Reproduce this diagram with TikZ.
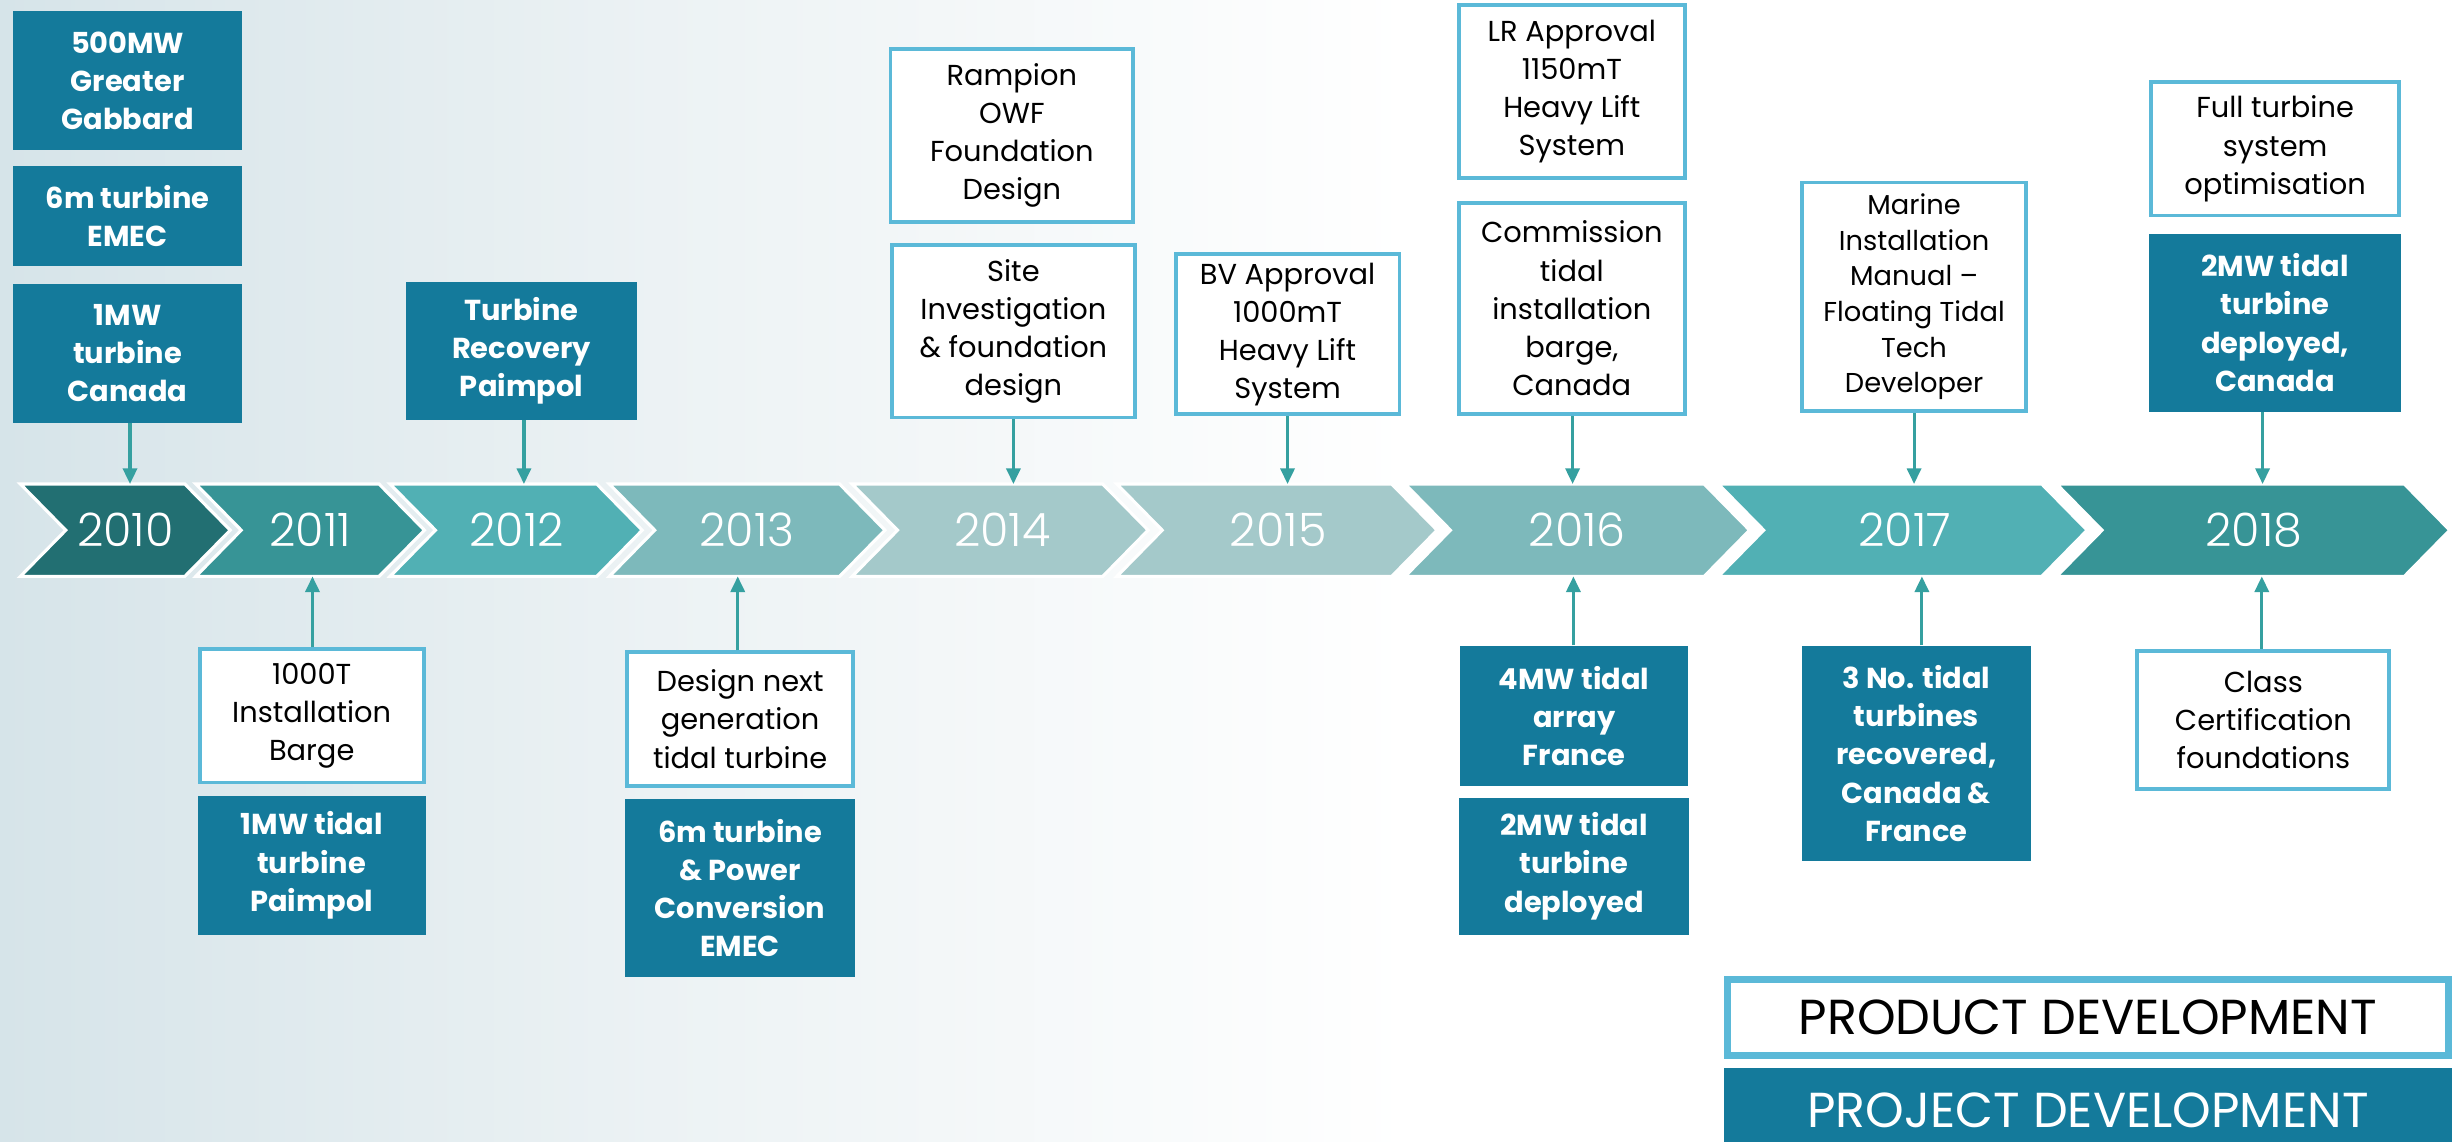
\documentclass[tikz,border=0pt]{standalone}
\usepackage{fontspec}
\setmainfont{Poppins}
\IfFontExistsTF{Poppins Light}{\newfontfamily\yearfont{Poppins Light}}{\newfontfamily\yearfont{Poppins}}
\usetikzlibrary{arrows.meta}
\definecolor{projfill}{RGB}{20,122,155}
\definecolor{prodline}{RGB}{91,185,216}
\definecolor{conncol}{RGB}{53,160,160}
\definecolor{c10}{RGB}{34,111,114}
\definecolor{c11}{RGB}{55,148,150}
\definecolor{c12}{RGB}{81,176,180}
\definecolor{c13}{RGB}{125,185,187}
\definecolor{c14}{RGB}{164,201,202}
\definecolor{bgL}{RGB}{214,228,233}
\definecolor{bgM}{RGB}{236,242,244}
\newcommand\chevshape[3]{%
  \path[chev, fill=#3] (#1,309) -- (#2,309) -- ++(29,29.5) -- ++(-29,29.5) -- (#1,368) -- ++(29,-29.5) -- cycle;}
\begin{document}
\begin{tikzpicture}[x=1bp,y=-1bp,
  boxtext/.style={align=center, inner sep=0pt, font=\fontsize{18.5}{24.5}\selectfont},
  prodbox/.style={boxtext, draw=prodline, line width=2.5bp, fill=white, text=black},
  projbox/.style={boxtext, fill=projfill, text=white, font=\bfseries\fontsize{18.5}{24.5}\selectfont},
  conn/.style={draw=conncol, line width=2bp, -{Triangle[length=10bp,width=9bp]}},
  chev/.style={draw=white, line width=2bp},
  yeartxt/.style={text=white, inner sep=0pt, font=\yearfont\fontsize{29.5}{29.5}\selectfont},
  legendtxt/.style={inner sep=0pt, font=\fontsize{31.5}{31.5}\selectfont}
]
% background
\useasboundingbox (0,0) rectangle (1568,729);
\fill[white] (0,0) rectangle (1568,729);
\shade[left color=bgL, right color=bgM] (0,0) rectangle (420,729);
\shade[left color=bgM, right color=white] (420,0) rectangle (900,729);

% chevrons
\chevshape{13}{118}{c10}
\chevshape{125}{242}{c11}
\chevshape{249}{381}{c12}
\chevshape{389}{536}{c13}
\chevshape{544}{704}{c14}
\chevshape{713}{888.5}{c14}
\chevshape{897}{1088}{c13}
\chevshape{1097}{1303.5}{c12}
\chevshape{1313}{1535}{c11}

\node[yeartxt] (y2010) at (80,338.5) {2010};
\node[yeartxt] (y2011) at (198,338.5) {2011};
\node[yeartxt] (y2012) at (330,338.5) {2012};
\node[yeartxt] (y2013) at (477,338.5) {2013};
\node[yeartxt] (y2014) at (640,338.5) {2014};
\node[yeartxt] (y2015) at (816,338.5) {2015};
\node[yeartxt] (y2016) at (1007,338.5) {2016};
\node[yeartxt] (y2017) at (1216,338.5) {2017};
\node[yeartxt] (y2018) at (1439,338.5) {2018};

% top boxes
\node[projbox, minimum width=147, minimum height=89] (g500) at (81.5,51.5) {500MW\\Greater\\Gabbard};
\node[projbox, minimum width=147, minimum height=64] (emec6) at (81.5,138) {6m turbine\\EMEC};
\node[projbox, minimum width=147, minimum height=89] (can1) at (81.5,225.5) {1MW\\turbine\\Canada};
\node[projbox, minimum width=148, minimum height=88] (recov) at (333,224) {Turbine\\Recovery\\Paimpol};
\node[prodbox, minimum width=155.5, minimum height=110.5] (rampion) at (646,86.5) {Rampion\\OWF\\Foundation\\Design};
\node[prodbox, minimum width=155.5, minimum height=110.5] (site) at (647,211.5) {Site\\Investigation\\\& foundation\\design};
\node[prodbox, minimum width=143.5, minimum height=102.5] (bv) at (822,213.5) {BV Approval\\1000mT\\Heavy Lift\\System};
\node[prodbox, minimum width=144.5, minimum height=110.5] (lr) at (1003.5,58.5) {LR Approval\\1150mT\\Heavy Lift\\System};
\node[prodbox, minimum width=144.5, minimum height=135.5] (comm) at (1003.5,197) {Commission\\tidal\\installation\\barge,\\Canada};
\node[prodbox, minimum width=143.5, minimum height=146.5, font=\fontsize{17.5}{22.8}\selectfont] (marine) at (1222,189.5) {Marine\\Installation\\Manual –\\Floating Tidal\\Tech\\Developer};
\node[prodbox, minimum width=158.5, minimum height=85.5] (full) at (1452.5,95) {Full turbine\\system\\optimisation};
\node[projbox, minimum width=161, minimum height=114] (mw2can) at (1452.5,206) {2MW tidal\\turbine\\deployed,\\Canada};

% bottom boxes
\node[prodbox, minimum width=143.5, minimum height=85.5] (t1000) at (199,457) {1000T\\Installation\\Barge};
\node[projbox, minimum width=146, minimum height=89] (mw1pai) at (199,552.5) {1MW tidal\\turbine\\Paimpol};
\node[prodbox, minimum width=144.5, minimum height=85.5] (design) at (472.5,459) {Design next\\generation\\tidal turbine};
\node[projbox, minimum width=147, minimum height=114] (emec6b) at (472.5,567) {6m turbine\\\& Power\\Conversion\\EMEC};
\node[projbox, minimum width=146, minimum height=90] (mw4) at (1005,457) {4MW tidal\\array\\France};
\node[projbox, minimum width=147, minimum height=88] (mw2dep) at (1005,553) {2MW tidal\\turbine\\deployed};
\node[projbox, minimum width=147, minimum height=138] (no3) at (1223.5,481) {3 No. tidal\\turbines\\recovered,\\Canada \&\\France};
\node[prodbox, minimum width=161.5, minimum height=88.5] (classc) at (1445,459.5) {Class\\Certification\\foundations};

% legend
\node[legendtxt, draw=prodline, line width=4.5bp, fill=white, text=black, minimum width=461.5, minimum height=48.5] (product) at (1333,649.5) {PRODUCT DEVELOPMENT};
\node[legendtxt, fill=projfill, text=white, minimum width=466, minimum height=54] (project) at (1333,709) {PROJECT DEVELOPMENT};

% connectors from above
\coordinate (a10) at (83,309);
\coordinate (a12) at (334.5,309);
\coordinate (a14) at (647,309);
\coordinate (a15) at (822,309);
\coordinate (a16) at (1004,309);
\coordinate (a17) at (1222,309);
\coordinate (a18) at (1444.5,309);
\draw[conn] (can1.south -| a10) -- (a10);
\draw[conn] (recov.south -| a12) -- (a12);
\draw[conn] (site.south -| a14) -- (a14);
\draw[conn] (bv.south -| a15) -- (a15);
\draw[conn] (comm.south -| a16) -- (a16);
\draw[conn] (marine.south -| a17) -- (a17);
\draw[conn] (mw2can.south -| a18) -- (a18);

% connectors from below
\coordinate (b11) at (199.5,368);
\coordinate (b13) at (471,368);
\coordinate (b16) at (1004.5,368);
\coordinate (b17) at (1227,368);
\coordinate (b18) at (1444,368);
\draw[conn] (t1000.north -| b11) -- (b11);
\draw[conn] (design.north -| b13) -- (b13);
\draw[conn] (mw4.north -| b16) -- (b16);
\draw[conn] (no3.north -| b17) -- (b17);
\draw[conn] (classc.north -| b18) -- (b18);
\end{tikzpicture}
\end{document}
